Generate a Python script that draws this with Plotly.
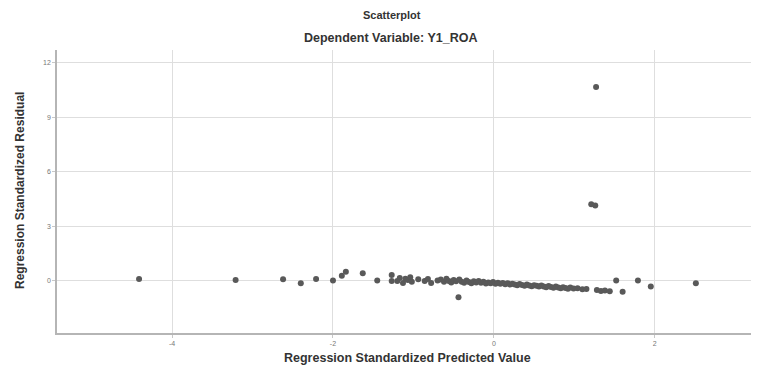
import plotly.graph_objects as go

# Regression standardized predicted value (x) and standardized residual (y)
pred = [-4.41, -3.21, -2.62, -2.40, -2.21, -2.00, -1.89, -1.84, -1.63, -1.45,
        -1.27, -1.27, -1.20, -1.17, -1.13, -1.10, -1.07, -1.04, -1.02, -0.94,
        -0.86, -0.82, -0.78, -0.70, -0.66, -0.62, -0.59, -0.56, -0.53, -0.50,
        -0.47, -0.44, -0.43, -0.40, -0.37, -0.34, -0.31, -0.28, -0.25, -0.22,
        -0.19, -0.16, -0.13, -0.10, -0.07, -0.04, -0.01, 0.02, 0.05, 0.08,
        0.11, 0.14, 0.17, 0.20, 0.23, 0.26, 0.29, 0.32, 0.35, 0.38,
        0.41, 0.44, 0.47, 0.50, 0.53, 0.56, 0.59, 0.62, 0.65, 0.68,
        0.71, 0.74, 0.77, 0.80, 0.83, 0.86, 0.89, 0.92, 0.95, 0.99,
        1.04, 1.10, 1.15, 1.28, 1.33, 1.38, 1.44, 1.52, 1.60, 1.79,
        1.95, 2.51, 1.27, 1.21, 1.26]
resid = [0.11, 0.05, 0.09, -0.13, 0.11, 0.02, 0.29, 0.51, 0.42, 0.02,
         0.33, 0.00, 0.00, 0.16, -0.11, 0.12, 0.05, 0.20, -0.05, 0.10,
         0.00, 0.11, -0.11, 0.02, 0.08, -0.05, 0.12, 0.00, -0.08, 0.05,
         -0.02, -0.90, 0.08, -0.04, -0.10, 0.03, -0.06, -0.12, -0.02, -0.08,
         0.00, -0.10, -0.05, -0.14, -0.08, -0.12, -0.06, -0.15, -0.10, -0.16,
         -0.11, -0.18, -0.13, -0.20, -0.15, -0.19, -0.23, -0.17, -0.22, -0.26,
         -0.20, -0.25, -0.29, -0.23, -0.27, -0.31, -0.25, -0.30, -0.34, -0.28,
         -0.33, -0.37, -0.31, -0.36, -0.40, -0.34, -0.39, -0.43, -0.36, -0.42,
         -0.40, -0.45, -0.44, -0.50, -0.55, -0.53, -0.56, 0.02, -0.59, 0.02,
         -0.31, -0.13, 10.66, 4.22, 4.15]

x_ticks = [-4, -2, 0, 2]
y_ticks = [0, 3, 6, 9, 12]

title_main = "Scatterplot"
title_sub = "Dependent Variable: Y1_ROA"
x_title = "Regression Standardized Predicted Value"
y_title = "Regression Standardized Residual"

OFF = 8  # default page body margin
W, H = 751, 360
L, T = 57 - OFF, 50 - OFF
R = W - (757 - OFF)
B = H - (333 - OFF)
pw, ph = W - L - R, H - T - B

def px_x(p):
    return (p - OFF - L) / pw

def px_y(p):
    return (H - B - (p - OFF)) / ph

fig = go.Figure()
fig.add_trace(go.Scatter(
    x=pred, y=resid, mode="markers",
    marker=dict(size=6, color="#595959", line=dict(width=0)),
    hoverinfo="skip", showlegend=False,
))

font_main = "Liberation Sans, Arial, sans-serif"

def ann(text, x, y, size, angle=0):
    return dict(text="<b>" + text + "</b>", xref="paper", yref="paper",
                x=px_x(x), y=px_y(y), xanchor="center", yanchor="middle",
                showarrow=False, textangle=angle,
                font=dict(size=size, color="#333333", family=font_main))

fig.update_layout(
    width=W, height=H,
    margin=dict(l=L, r=R, t=T, b=B),
    paper_bgcolor="white", plot_bgcolor="white",
    xaxis=dict(
        range=[-5.43, 3.27], tickvals=x_ticks, ticktext=[str(v) for v in x_ticks],
        showgrid=True, gridcolor="#dedede", gridwidth=1,
        zeroline=False, showline=True, linecolor="#b5b5b5", linewidth=1.5,
        ticks="outside", ticklen=3, tickcolor="#c8c8c8",
        tickfont=dict(size=7, color="#777777", family=font_main),
    ),
    yaxis=dict(
        range=[-2.86, 12.69], tickvals=y_ticks, ticktext=[str(v) for v in y_ticks],
        showgrid=True, gridcolor="#dedede", gridwidth=1,
        zeroline=False, showline=True, linecolor="#b5b5b5", linewidth=1.5,
        ticks="outside", ticklen=3, tickcolor="#c8c8c8",
        tickfont=dict(size=7, color="#777777", family=font_main),
    ),
    annotations=[
        ann(title_main, 392, 15, 11),
        ann(title_sub, 390, 38, 12.5),
        ann(x_title, 407, 358, 12.5),
        ann(y_title, 20, 191, 12, angle=-90),
    ],
)

fig.write_html("out.html")
